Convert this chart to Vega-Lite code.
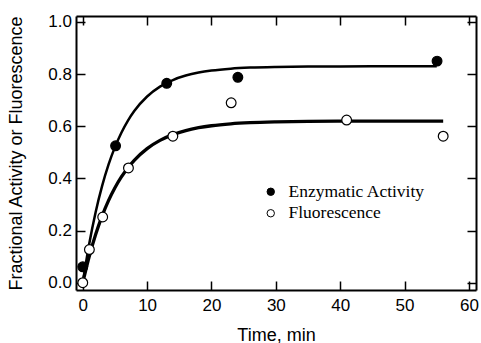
{
  "$schema": "https://vega.github.io/schema/vega-lite/v6.json",
  "width": 400,
  "height": 274,
  "autosize": {"type": "none"},
  "padding": {"left": 76, "top": 16, "right": 5, "bottom": 53},
  "background": "white",
  "config": {
    "view": {"stroke": null},
    "axis": {
      "grid": false,
      "domainColor": "black",
      "domainWidth": 2,
      "tickColor": "black",
      "tickWidth": 1.5,
      "tickSize": -9,
      "labelColor": "black",
      "titleColor": "black",
      "labelFont": "Liberation Sans",
      "titleFont": "Liberation Sans",
      "labelFontSize": 17,
      "titleFontSize": 18,
      "titleFontWeight": "normal"
    }
  },
  "datasets": {
    "fit": [
      {"curve": "Enzymatic fit", "t": 0, "v": 0},
      {"curve": "Enzymatic fit", "t": 1, "v": 0.1484},
      {"curve": "Enzymatic fit", "t": 2, "v": 0.2703},
      {"curve": "Enzymatic fit", "t": 3, "v": 0.3703},
      {"curve": "Enzymatic fit", "t": 4, "v": 0.4525},
      {"curve": "Enzymatic fit", "t": 5, "v": 0.5201},
      {"curve": "Enzymatic fit", "t": 6, "v": 0.5754},
      {"curve": "Enzymatic fit", "t": 7, "v": 0.6210},
      {"curve": "Enzymatic fit", "t": 8, "v": 0.6584},
      {"curve": "Enzymatic fit", "t": 10, "v": 0.7142},
      {"curve": "Enzymatic fit", "t": 12, "v": 0.7520},
      {"curve": "Enzymatic fit", "t": 14, "v": 0.7774},
      {"curve": "Enzymatic fit", "t": 16, "v": 0.7945},
      {"curve": "Enzymatic fit", "t": 18, "v": 0.8061},
      {"curve": "Enzymatic fit", "t": 20, "v": 0.8139},
      {"curve": "Enzymatic fit", "t": 23, "v": 0.8211},
      {"curve": "Enzymatic fit", "t": 26, "v": 0.8251},
      {"curve": "Enzymatic fit", "t": 30, "v": 0.8278},
      {"curve": "Enzymatic fit", "t": 35, "v": 0.8292},
      {"curve": "Enzymatic fit", "t": 40, "v": 0.8297},
      {"curve": "Enzymatic fit", "t": 45, "v": 0.8299},
      {"curve": "Enzymatic fit", "t": 55, "v": 0.83},
      {"curve": "Fluorescence fit", "t": 0, "v": 0},
      {"curve": "Fluorescence fit", "t": 1, "v": 0.1006},
      {"curve": "Fluorescence fit", "t": 2, "v": 0.1848},
      {"curve": "Fluorescence fit", "t": 3, "v": 0.2554},
      {"curve": "Fluorescence fit", "t": 4, "v": 0.3146},
      {"curve": "Fluorescence fit", "t": 5, "v": 0.3641},
      {"curve": "Fluorescence fit", "t": 6, "v": 0.4056},
      {"curve": "Fluorescence fit", "t": 7, "v": 0.4404},
      {"curve": "Fluorescence fit", "t": 8, "v": 0.4695},
      {"curve": "Fluorescence fit", "t": 10, "v": 0.5144},
      {"curve": "Fluorescence fit", "t": 12, "v": 0.5459},
      {"curve": "Fluorescence fit", "t": 14, "v": 0.5680},
      {"curve": "Fluorescence fit", "t": 16, "v": 0.5835},
      {"curve": "Fluorescence fit", "t": 18, "v": 0.5944},
      {"curve": "Fluorescence fit", "t": 20, "v": 0.6020},
      {"curve": "Fluorescence fit", "t": 23, "v": 0.6094},
      {"curve": "Fluorescence fit", "t": 26, "v": 0.6138},
      {"curve": "Fluorescence fit", "t": 30, "v": 0.6169},
      {"curve": "Fluorescence fit", "t": 35, "v": 0.6187},
      {"curve": "Fluorescence fit", "t": 40, "v": 0.6195},
      {"curve": "Fluorescence fit", "t": 46, "v": 0.6199},
      {"curve": "Fluorescence fit", "t": 56, "v": 0.62}
    ],
    "pts": [
      {"series": "Enzymatic Activity", "t": 0, "v": 0.061},
      {"series": "Enzymatic Activity", "t": 5.1, "v": 0.525},
      {"series": "Enzymatic Activity", "t": 13.05, "v": 0.765},
      {"series": "Enzymatic Activity", "t": 24.1, "v": 0.788},
      {"series": "Enzymatic Activity", "t": 55.05, "v": 0.85},
      {"series": "Fluorescence", "t": 0, "v": 0.0},
      {"series": "Fluorescence", "t": 1.03, "v": 0.127},
      {"series": "Fluorescence", "t": 3.1, "v": 0.252},
      {"series": "Fluorescence", "t": 7.1, "v": 0.44},
      {"series": "Fluorescence", "t": 14.0, "v": 0.562},
      {"series": "Fluorescence", "t": 23.06, "v": 0.69},
      {"series": "Fluorescence", "t": 41.0, "v": 0.624},
      {"series": "Fluorescence", "t": 56.0, "v": 0.562}
    ]
  },
  "resolve": {"axis": {"x": "independent", "y": "independent"}},
  "layer": [
    {
      "data": {"name": "fit"},
      "mark": {"type": "line", "color": "black", "interpolate": "monotone"},
      "encoding": {
        "x": {
          "field": "t", "type": "quantitative",
          "scale": {"domain": [-1.05, 61.1], "nice": false, "zero": false},
          "axis": {"orient": "bottom", "values": [0, 10, 20, 30, 40, 50, 60], "labelPadding": 16, "title": "Time, min", "titlePadding": 13}
        },
        "y": {
          "field": "v", "type": "quantitative",
          "scale": {"domain": [-0.028, 1.023], "nice": false, "zero": false},
          "axis": {"orient": "left", "values": [0, 0.2, 0.4, 0.6, 0.8, 1.0], "format": ".1f", "labelPadding": 13.5, "title": "Fractional Activity or Fluorescence", "titlePadding": 22}
        },
        "detail": {"field": "curve"},
        "strokeWidth": {
          "field": "curve", "type": "ordinal",
          "scale": {"domain": ["Enzymatic fit", "Fluorescence fit"], "range": [2.5, 3.3]},
          "legend": null
        }
      }
    },
    {
      "data": {"name": "pts"},
      "mark": {"type": "circle", "stroke": "black", "strokeWidth": 1.2, "size": 95, "opacity": 1},
      "encoding": {
        "x": {
          "field": "t", "type": "quantitative",
          "axis": {"orient": "top", "values": [0, 10, 20, 30, 40, 50, 60], "labels": false, "title": null}
        },
        "y": {
          "field": "v", "type": "quantitative",
          "axis": {"orient": "right", "values": [0, 0.2, 0.4, 0.6, 0.8, 1.0], "labels": false, "title": null}
        },
        "fill": {
          "field": "series", "type": "nominal",
          "scale": {"domain": ["Enzymatic Activity", "Fluorescence"], "range": ["black", "white"]},
          "legend": {
            "orient": "none", "legendX": 186, "legendY": 167, "title": null,
            "labelFont": "Liberation Serif", "labelFontSize": 17.5, "labelColor": "black",
            "labelExpr": "datum.label == 'Fluorescence' ? '\u00a0Fluorescence' : datum.label",
            "symbolType": "circle", "symbolSize": 55, "symbolStrokeColor": "black", "symbolStrokeWidth": 1,
            "rowPadding": 2.5, "labelOffset": 9, "padding": 0
          }
        }
      }
    }
  ]
}
